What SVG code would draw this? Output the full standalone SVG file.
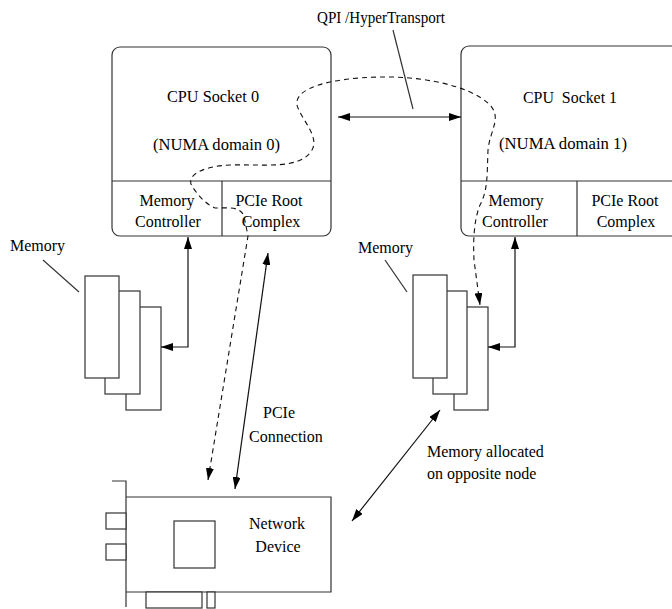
<svg xmlns="http://www.w3.org/2000/svg" width="672" height="609" viewBox="0 0 672 609">
  <style>
    text { font-family: "Liberation Serif", "Times New Roman", serif; font-size: 16px; fill: #000; }
    .box { fill: #fff; stroke: #333; stroke-width: 1.2; }
    .ln { fill: none; stroke: #333; stroke-width: 1.2; }
    .conn { fill: none; stroke: #111; stroke-width: 1.2; }
    .dash { fill: none; stroke: #111; stroke-width: 1.1; stroke-dasharray: 5 4; }
    .mid { text-anchor: middle; }
  </style>
  <defs>
    <marker id="arrow" viewBox="0 0 12 8" refX="12" refY="4" markerWidth="12" markerHeight="8" markerUnits="userSpaceOnUse" orient="auto-start-reverse">
      <path d="M0,0 L12,4 L0,8 z" fill="#000"/>
    </marker>
  </defs>

  <rect width="672" height="609" fill="#fff"/>

  <!-- CPU socket 0 -->
  <g id="cpu0">
    <rect class="box" x="112" y="47" width="219" height="189" rx="8" ry="8"/>
    <line class="ln" x1="112" y1="181" x2="331" y2="181"/>
    <line class="ln" x1="222" y1="181" x2="222" y2="236"/>
    <text x="167" y="102" textLength="92" lengthAdjust="spacingAndGlyphs">CPU Socket 0</text>
    <text x="153" y="150" textLength="127" lengthAdjust="spacingAndGlyphs">(NUMA domain 0)</text>
    <text class="mid" x="167" y="206">Memory</text>
    <text class="mid" x="168" y="227">Controller</text>
    <text class="mid" x="269" y="206">PCIe Root</text>
    <text class="mid" x="271" y="227">Complex</text>
  </g>

  <!-- CPU socket 1 -->
  <g id="cpu1">
    <rect class="box" x="461" y="46" width="230" height="190" rx="8" ry="8"/>
    <line class="ln" x1="461" y1="181" x2="691" y2="181"/>
    <line class="ln" x1="577" y1="181" x2="577" y2="236"/>
    <text x="523" y="103" textLength="94" lengthAdjust="spacingAndGlyphs" xml:space="preserve">CPU  Socket 1</text>
    <text x="499" y="149" textLength="128" lengthAdjust="spacingAndGlyphs">(NUMA domain 1)</text>
    <text class="mid" x="516" y="206">Memory</text>
    <text class="mid" x="515" y="227">Controller</text>
    <text class="mid" x="625" y="206">PCIe Root</text>
    <text class="mid" x="626" y="227">Complex</text>
  </g>

  <!-- memory modules attached to socket 0 -->
  <g id="memory0">
    <rect class="box" x="126" y="307" width="35" height="103"/>
    <rect class="box" x="105" y="291" width="35" height="103"/>
    <rect class="box" x="85" y="276" width="34" height="102"/>
    <text x="10" y="251">Memory</text>
    <line class="ln" x1="43" y1="260" x2="79" y2="292"/>
  </g>

  <!-- memory modules attached to socket 1 -->
  <g id="memory1">
    <rect class="box" x="454" y="307" width="34" height="103"/>
    <rect class="box" x="433" y="291" width="34" height="103"/>
    <rect class="box" x="413" y="275" width="34" height="103"/>
    <text x="358" y="253">Memory</text>
    <line class="ln" x1="385" y1="260" x2="407" y2="292"/>
  </g>

  <!-- network card -->
  <g id="network-device">
    <polyline class="ln" points="112,481 126,481 126,607"/>
    <polyline class="ln" points="126,497 331,497 331,592 126,592"/>
    <rect class="box" x="106" y="513" width="20" height="16"/>
    <rect class="box" x="106" y="544" width="20" height="16"/>
    <rect class="box" x="174" y="521" width="41" height="47"/>
    <rect class="box" x="146" y="592" width="56" height="16"/>
    <rect class="box" x="207" y="592" width="8" height="16"/>
    <text x="249" y="529">Network</text>
    <text class="mid" x="278" y="552">Device</text>
  </g>

  <!-- labels -->
  <g id="labels">
    <text x="317" y="23" textLength="128" lengthAdjust="spacingAndGlyphs">QPI /HyperTransport</text>
    <line class="ln" x1="393" y1="30" x2="413" y2="109"/>
    <text x="263" y="418">PCIe</text>
    <text x="249" y="442">Connection</text>
    <text x="427" y="457">Memory allocated</text>
    <text x="427" y="479">on opposite node</text>
  </g>

  <!-- connectors -->
  <g id="connectors">
    <line class="conn" x1="338" y1="117" x2="461" y2="117" marker-start="url(#arrow)" marker-end="url(#arrow)"/>
    <polyline class="conn" points="161,347 188,347 188,237" marker-start="url(#arrow)" marker-end="url(#arrow)"/>
    <polyline class="conn" points="488,347 515,347 515,237" marker-start="url(#arrow)" marker-end="url(#arrow)"/>
    <line class="conn" x1="268" y1="253" x2="235" y2="489" marker-start="url(#arrow)" marker-end="url(#arrow)"/>
    <line class="conn" x1="440" y1="410" x2="352" y2="521" marker-start="url(#arrow)" marker-end="url(#arrow)"/>
    <!-- data path: remote memory through both sockets to the device -->
    <path class="dash" d="M208,480 L248,236 L244,216 C240,206 228,208 215,208 C205,204 195,192 191,184 C188,174 205,166 230,165 C265,164 300,170 312,150 C320,136 300,118 297,105 C294,88 330,78 380,77 C420,76 470,85 490,105 C502,118 490,130 488,150 C487,175 488,190 480,205 C474,220 473,240 474,260 L480,305" marker-start="url(#arrow)" marker-end="url(#arrow)"/>
  </g>
</svg>
